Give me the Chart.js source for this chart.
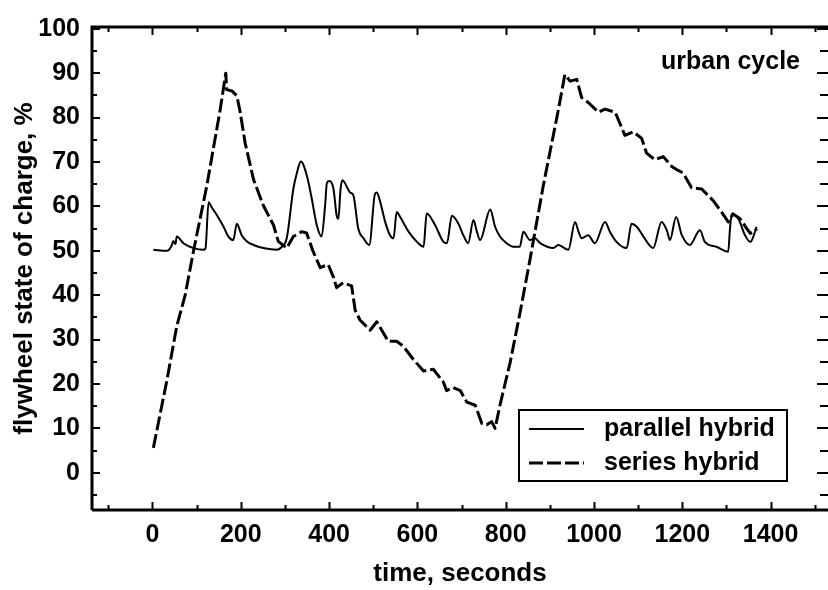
<!DOCTYPE html>
<html>
<head>
<meta charset="utf-8">
<script src="https://cdn.jsdelivr.net/npm/chart.js@4"></script>
<style>
html,body{margin:0;padding:0;background:#fff;}
#wrap{width:828px;height:590px;position:relative;}
</style>
</head>
<body>
<div id="wrap"><canvas id="c" width="828" height="590"></canvas></div>
<script>
// ---- data ----
const parallelTime = [2,33,44,47,52,55,70,93,115,120,127,134,146,161,172,183,191,202,214,229,251,282,293,304,319,327,336,350,361,372,383,391,395,401,410,417,421,426,430,448,455,466,478,491,504,508,516,527,538,546,553,561,580,599,614,621,640,659,667,678,693,704,715,727,734,742,765,776,787,802,817,832,840,855,866,878,908,919,942,957,965,972,987,1002,1025,1036,1051,1074,1085,1097,1112,1134,1153,1165,1172,1186,1199,1217,1240,1251,1277,1304,1308,1312,1327,1342,1354,1361,1368];
const parallelSoc  = [50.2,50,51.3,52.2,51.5,53.2,51.7,50.6,50.2,50.5,60.9,59.8,58,55.4,53.2,52.4,56.1,53.5,52.1,51.3,50.6,50.2,50.9,52.8,63.9,67.5,70.1,66.8,61.6,55.8,53.2,60.2,65.3,65.7,63.9,58,57.2,63.9,65.9,63.1,62.5,55,52.8,51.3,62.8,63.1,60.9,56.5,53.5,52.8,58.7,57.6,54.3,52,50.9,58.4,55.8,52,51.7,57.9,56.1,53.5,51.7,56.9,54.6,52.4,59.3,55.4,53.2,51.7,50.9,50.9,54.3,52.4,52.8,51.7,50.6,51.3,50.2,56.5,54.3,52.8,53.5,51.7,56.5,54.3,52,50.6,56.1,55.4,53.2,50.6,56.5,54.6,52.4,57.6,53.5,51.3,54.6,52,50.9,49.8,55,58.3,57.2,53.5,52,53.2,55.4];
const seriesTime = [2,33,55,74,93,123,153,166,168,180,191,198,210,229,251,274,285,304,319,338,349,364,380,398,410,417,432,451,459,470,493,508,534,553,568,591,614,636,659,666,681,697,712,731,746,757,768,776,787,810,832,855,885,919,934,946,961,972,987,1010,1025,1048,1070,1089,1108,1119,1138,1157,1176,1187,1202,1221,1244,1270,1289,1304,1315,1331,1346,1354,1364,1368];
const seriesSoc  = [5.6,21,33,40,50,64.6,81.6,90,86.3,86,84.9,81.6,74.2,66,60.2,55.8,52.1,50.6,53.2,54.3,54,49.8,46.2,46.9,44,41.7,42.8,42.1,36.6,34.4,32.1,34,29.6,29.6,28.5,25.5,22.9,23.3,20.4,18.5,19.2,18.5,15.9,15.2,11.1,10.8,11.5,10,15.2,24.8,35.8,48,64.6,81.6,89.7,88.2,88.6,84.5,83.4,81.2,81.9,81.2,76,76.8,75.3,72,70.5,71.2,69,68.3,67.5,64.2,63.9,61.3,58.7,56.5,58.3,57.2,55,53.9,54.3,55];
const seriesLabels = ['parallel hybrid','series hybrid'];
const xTickValues = [0,200,400,600,800,1000,1200,1400];
const yTickValues = [0,10,20,30,40,50,60,70,80,90,100];
const annotationText = 'urban cycle';
const xTitle = 'time, seconds';
const yTitle = 'flywheel state of charge, %';

const FONT = '"Liberation Sans", Arial, Helvetica, sans-serif';
const DASH = [14,4];

function pts(xs, ys){ return xs.map((x,i)=>({x:x, y:ys[i]})); }

const frameTicks = {
  id:'frameTicks',
  afterDraw(chart){
    const ctx = chart.ctx, a = chart.chartArea;
    const xs = chart.scales.x, ys = chart.scales.y;
    ctx.save();
    ctx.strokeStyle = '#000';
    ctx.lineWidth = 3;
    ctx.beginPath();
    ctx.moveTo(a.left, a.bottom); ctx.lineTo(a.left, a.top); ctx.lineTo(a.right, a.top);
    ctx.moveTo(a.left, a.bottom); ctx.lineTo(a.right, a.bottom);
    ctx.stroke();
    ctx.lineWidth = 2;
    ctx.beginPath();
    for (let v = -100; v <= 1500; v += 100){
      const p = Math.round(xs.getPixelForValue(v)) + 0.5;
      const L = (v % 200 === 0) ? 8 : 5;
      ctx.moveTo(p, a.bottom); ctx.lineTo(p, a.bottom - L);
      ctx.moveTo(p, a.top); ctx.lineTo(p, a.top + L);
    }
    for (let v = -5; v <= 100; v += 5){
      const p = Math.round(ys.getPixelForValue(v));
      const L = (v % 10 === 0) ? 8 : 5;
      ctx.moveTo(a.left, p); ctx.lineTo(a.left + L, p);
      ctx.moveTo(a.right, p); ctx.lineTo(a.right - L - 3, p);
    }
    ctx.stroke();

    // annotation
    ctx.fillStyle = '#000';
    ctx.font = 'bold 25px ' + FONT;
    ctx.textAlign = 'right';
    ctx.textBaseline = 'middle';
    ctx.fillText(annotationText, 800, 62);

    // legend box
    const ds = chart.data.datasets;
    const bx = 519, by = 410, bw = 268, bh = 71;
    ctx.lineWidth = 2;
    ctx.setLineDash([]);
    ctx.strokeRect(bx, by, bw, bh);
    const rows = [429, 463];
    ds.forEach((d, i) => {
      ctx.save();
      ctx.lineWidth = d.borderWidth;
      ctx.setLineDash(d.borderDash || []);
      ctx.beginPath();
      ctx.moveTo(529, rows[i]); ctx.lineTo(584, rows[i]);
      ctx.stroke();
      ctx.restore();
      ctx.textAlign = 'left';
      ctx.fillText(d.label, 604, rows[i]);
    });
    ctx.restore();
  }
};

new Chart(document.getElementById('c'), {
  type: 'line',
  data: {
    datasets: [
      { label: seriesLabels[0], data: pts(parallelTime, parallelSoc), borderColor:'#000', borderWidth:2, pointRadius:0, tension:0.25, cubicInterpolationMode:'monotone', fill:false, borderJoinStyle:'round' },
      { label: seriesLabels[1], data: pts(seriesTime, seriesSoc), borderColor:'#000', borderWidth:3, borderDash:DASH, pointRadius:0, tension:0, fill:false, borderJoinStyle:'round' }
    ]
  },
  options: {
    responsive:false,
    animation:false,
    events:[],
    layout:{ padding:{ top:18, right:0, left:0, bottom:0 } },
    plugins:{ legend:{display:false}, tooltip:{enabled:false}, title:{display:false} },
    scales:{
      x:{
        type:'linear', min:-137, max:1530,
        grid:{display:false, drawTicks:false}, border:{display:false},
        afterBuildTicks(s){ s.ticks = xTickValues.map(v=>({value:v})); },
        afterFit(s){ s.height = 80; },
        ticks:{ color:'#000', font:{family:FONT, size:25, weight:'bold'}, padding:10, maxRotation:0, autoSkip:false, callback:(v)=>String(v) },
        title:{ display:true, text:xTitle, color:'#000', font:{family:FONT, size:26, weight:'bold'}, padding:{top:0,bottom:1} }
      },
      y:{
        type:'linear', min:-8.4, max:100.4,
        grid:{display:false, drawTicks:false}, border:{display:false},
        afterBuildTicks(s){ s.ticks = yTickValues.map(v=>({value:v})); },
        afterFit(s){ s.width = 92; },
        ticks:{ color:'#000', font:{family:FONT, size:25, weight:'bold'}, padding:12, autoSkip:false, callback:(v)=>String(v) },
        title:{ display:true, text:yTitle, color:'#000', font:{family:FONT, size:26, weight:'bold'}, padding:{top:9,bottom:0} }
      }
    }
  },
  plugins:[frameTicks]
});
</script>
</body>
</html>
